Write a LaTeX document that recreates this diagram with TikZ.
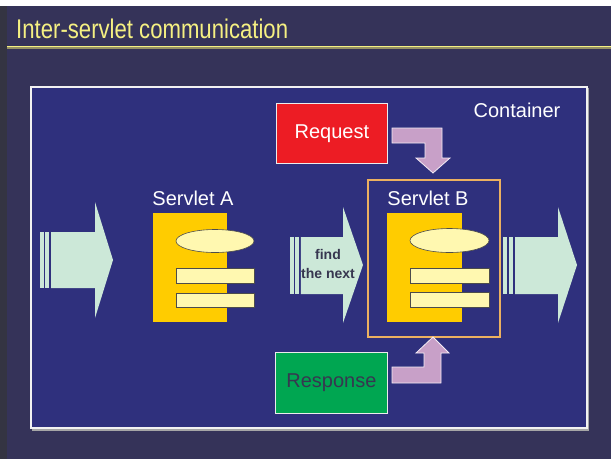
\documentclass[tikz,border=0pt]{standalone}
\usepackage{fontspec}
\usetikzlibrary{shapes.geometric}
\setmainfont{Liberation Sans}
\newfontfamily\titlefont[FakeStretch=0.82]{Liberation Sans}
\definecolor{slate}{RGB}{53,51,89}
\definecolor{edge}{RGB}{52,52,66}
\definecolor{panel}{RGB}{47,48,125}
\definecolor{mint}{RGB}{204,232,216}
\definecolor{servletyellow}{RGB}{255,204,0}
\definecolor{paleyellow}{RGB}{255,248,176}
\definecolor{lilac}{RGB}{200,160,200}
\definecolor{reqred}{RGB}{237,28,36}
\definecolor{respgreen}{RGB}{0,166,81}
\definecolor{frametan}{RGB}{236,176,96}
\definecolor{titleyellow}{RGB}{245,240,130}
\definecolor{ruleolive}{RGB}{150,145,100}
\definecolor{darktext}{RGB}{55,55,80}
\tikzset{
  whitetext/.style={text=white,font=\fontsize{20}{22}\selectfont,inner sep=0pt},
  servletbody/.style={fill=servletyellow,draw=none},
  partshape/.style={fill=paleyellow,draw=black!70,line width=0.6pt},
  flowarrow/.style={fill=mint,draw=none},
  bentarrow/.style={fill=lilac,draw=white!80!lilac,line width=0.8pt,line join=miter},
  msgbox/.style={draw=white!85!gray,line width=0.8pt,minimum width=111pt,minimum height=60pt,inner sep=0pt,font=\fontsize{20}{22}\selectfont}
}
\begin{document}
\begin{tikzpicture}[x=1pt,y=-1pt]
\useasboundingbox (0,0) rectangle (611,459);
% slide background
\fill[white] (0,0) rectangle (611,459);
\fill[edge] (0,6) rectangle (7,459);
\fill[slate] (7,6) rectangle (611,459);
% title and rule
\node[anchor=base west,text=titleyellow,inner sep=0pt,font=\titlefont\fontsize{27}{30}\selectfont] (title) at (16,38) {Inter-servlet communication};
\fill[ruleolive] (7,46) rectangle (611,48.6);
\fill[titleyellow] (7,45.6) rectangle (611,47.4);

% container
\fill[gray!70] (32,88) rectangle (589,431);
\node[draw=white!90!gray,line width=2pt,fill=panel,minimum width=556pt,minimum height=341pt,inner sep=0pt,anchor=north west] (container) at (30,86) {};
\node[whitetext,anchor=base] (clabel) at (517,117) {Container};

% incoming arrow
\fill[flowarrow] (40,232) rectangle (43.8,288);
\fill[flowarrow] (45.2,232) rectangle (49.3,288);
\fill[flowarrow] (51,232) -- (95,232) -- (95,202) -- (113,260) -- (95,318) -- (95,288) -- (51,288) -- cycle;

% servlet A
\node[servletbody,minimum width=74pt,minimum height=109pt,inner sep=0pt,anchor=north west] (sa) at (153,213) {};
\node[partshape,ellipse,minimum width=78pt,minimum height=23pt,inner sep=0pt] (saoval) at (215,241) {};
\node[partshape,minimum width=78pt,minimum height=15pt,inner sep=0pt,anchor=north west] (sabar1) at (176,268) {};
\node[partshape,minimum width=78pt,minimum height=14pt,inner sep=0pt,anchor=north west] (sabar2) at (176,293) {};
\node[whitetext,anchor=base] (salabel) at (193,205) {Servlet A};

% dispatch arrow
\fill[flowarrow] (290,237) rectangle (293.5,294);
\fill[flowarrow] (295,237) rectangle (299.3,294);
\fill[flowarrow] (300.8,237) -- (343,237) -- (343,207) -- (363,265) -- (343,323) -- (343,294) -- (300.8,294) -- cycle;
\node[text=darktext,font=\bfseries\fontsize{14}{19}\selectfont,align=center,inner sep=0pt] (find) at (328,264) {find\\the next};

% servlet B
\node[draw=frametan,line width=1.5pt,minimum width=132pt,minimum height=157pt,inner sep=0pt,anchor=north west] (sbframe) at (367,179) {};
\node[servletbody,minimum width=75pt,minimum height=109pt,inner sep=0pt,anchor=north west] (sb) at (387,213) {};
\node[partshape,ellipse,minimum width=79pt,minimum height=24pt,inner sep=0pt] (sboval) at (449.5,240.5) {};
\node[partshape,minimum width=79pt,minimum height=15pt,inner sep=0pt,anchor=north west] (sbbar1) at (410,268) {};
\node[partshape,minimum width=79pt,minimum height=15pt,inner sep=0pt,anchor=north west] (sbbar2) at (410,292) {};
\node[whitetext,anchor=base] (sblabel) at (428,205) {Servlet B};

% outgoing arrow
\fill[flowarrow] (503.3,237) rectangle (506.7,294);
\fill[flowarrow] (508.7,237) rectangle (513.3,294);
\fill[flowarrow] (515,237) -- (558,237) -- (558,207) -- (577,265) -- (558,323) -- (558,294) -- (515,294) -- cycle;

% request
\node[msgbox,fill=reqred,text=white,anchor=north west] (req) at (276,103) {Request};
\draw[bentarrow] (392,128) -- (442,128) -- (442,158) -- (450,158) -- (433,173) -- (416,158) -- (425,158) -- (425,143) -- (392,143) -- cycle;

% response
\node[msgbox,fill=respgreen,text=darktext,anchor=north west,minimum width=112pt,minimum height=61pt] (resp) at (275,352) {Response};
\draw[bentarrow] (392,383) -- (441,383) -- (441,353) -- (449,353) -- (433,337) -- (416,353) -- (424,353) -- (424,367) -- (392,367) -- cycle;
\end{tikzpicture}
\end{document}
